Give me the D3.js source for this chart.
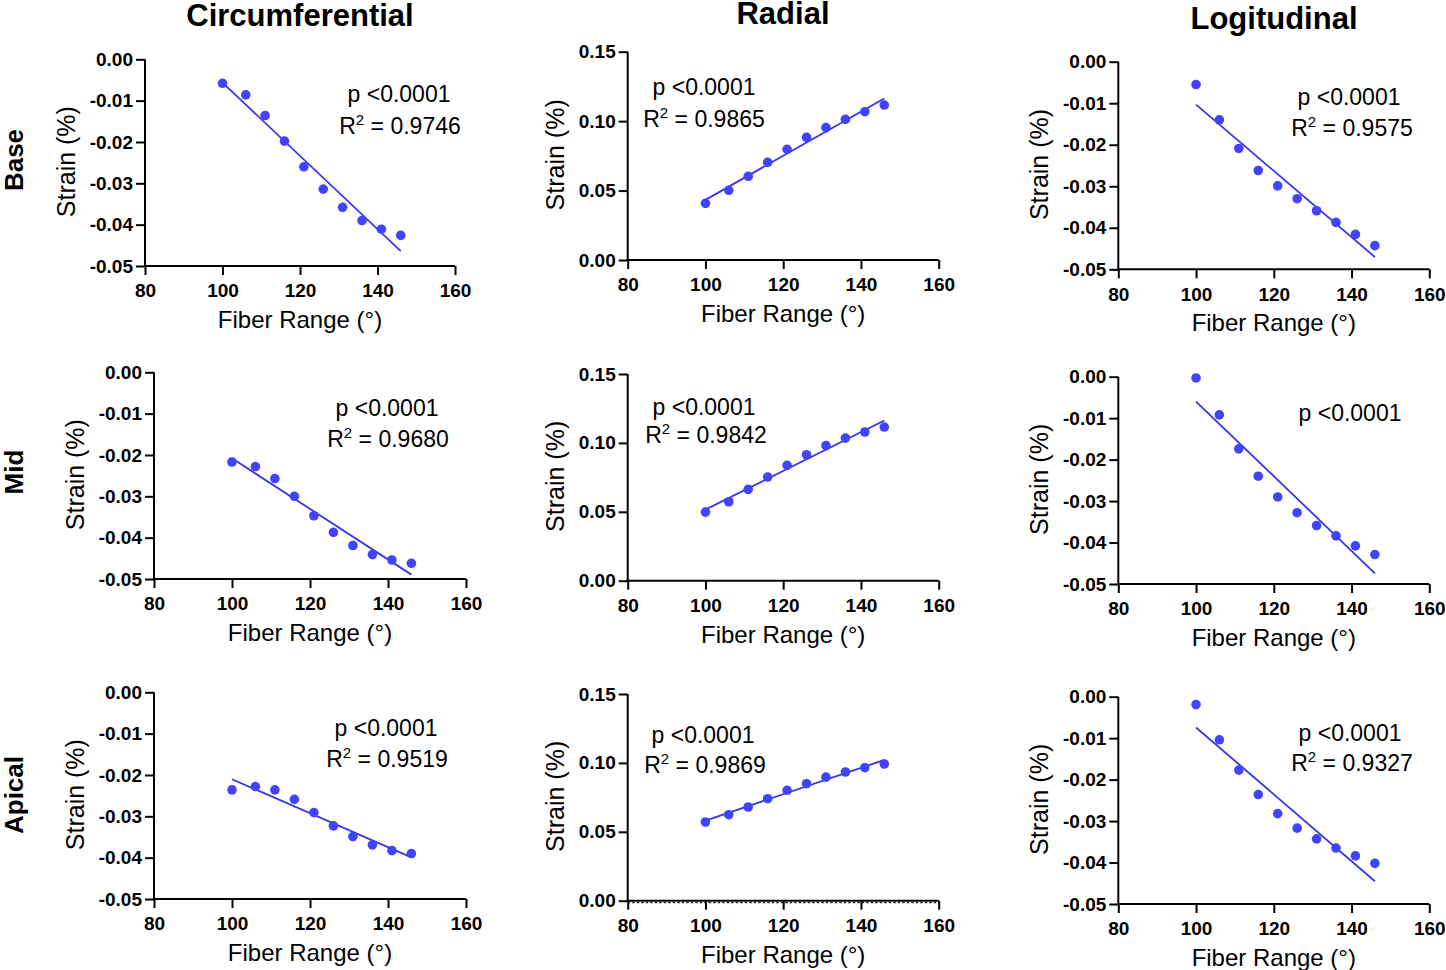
<!DOCTYPE html>
<html>
<head>
<meta charset="utf-8">
<script src="https://cdn.jsdelivr.net/npm/d3@7"></script>
<style>
  body { margin: 0; background: #fff; }
  svg { display: block; font-family: "Liberation Sans", Arial, sans-serif; }
</style>
</head>
<body>
<svg id="chart" width="1446" height="970"></svg>
<script>
// ---------------- DATA ----------------
const fiberRange = [100, 106, 111, 116, 121, 126, 131, 136, 141, 146];
const columnTitles = ["Circumferential", "Radial", "Logitudinal"];
const rowTitles = ["Base", "Mid", "Apical"];
const xTicks = [80, 100, 120, 140, 160];
const negTicks = [0, -0.01, -0.02, -0.03, -0.04, -0.05];
const posTicks = [0, 0.05, 0.10, 0.15];

const circBase   = [-0.0058, -0.0086, -0.0136, -0.0198, -0.0260, -0.0314, -0.0358, -0.0390, -0.0411, -0.0426];
const radBase    = [0.0408, 0.0502, 0.0602, 0.0703, 0.0797, 0.0883, 0.0953, 0.1013, 0.1068, 0.1116];
const longBase   = [-0.0055, -0.0140, -0.0209, -0.0262, -0.0299, -0.0330, -0.0359, -0.0387, -0.0416, -0.0443];
const circMid    = [-0.0217, -0.0228, -0.0257, -0.0300, -0.0347, -0.0387, -0.0419, -0.0441, -0.0454, -0.0462];
const radMid     = [0.0498, 0.0573, 0.0663, 0.0752, 0.0837, 0.0914, 0.0980, 0.1035, 0.1079, 0.1115];
const longMid    = [-0.0003, -0.0092, -0.0174, -0.0240, -0.0290, -0.0328, -0.0359, -0.0384, -0.0408, -0.0429];
const circApical = [-0.0236, -0.0228, -0.0236, -0.0259, -0.0291, -0.0323, -0.0349, -0.0369, -0.0383, -0.0390];
const radApical  = [0.0571, 0.0624, 0.0680, 0.0740, 0.0801, 0.0849, 0.0897, 0.0934, 0.0965, 0.0992];
const longApical = [-0.0019, -0.0104, -0.0177, -0.0236, -0.0282, -0.0317, -0.0343, -0.0365, -0.0384, -0.0402];

const pLabel = "p <0.0001";
const rSquared = ["0.9746", "0.9865", "0.9575", "0.9680", "0.9842", null, "0.9519", "0.9869", "0.9327"];

// ---------------- LAYOUT ----------------
const series = [circBase, radBase, longBase, circMid, radMid, longMid, circApical, radApical, longApical];
// axis origin (left x), top and bottom pixel of y range
const frames = [
  {x: 145,   top: 59.3,  bot: 266,   w: 310},
  {x: 627.7, top: 51.7,  bot: 260,   w: 311},
  {x: 1118.3,top: 61.7,  bot: 269.3, w: 311},
  {x: 154,   top: 372.3, bot: 579,   w: 312},
  {x: 627.7, top: 374,   bot: 580.7, w: 311},
  {x: 1118.3,top: 376.7, bot: 584,   w: 311},
  {x: 154,   top: 692.3, bot: 899,   w: 312},
  {x: 627.7, top: 694,   bot: 900.7, w: 311},
  {x: 1118.3,top: 696.7, bot: 904,   w: 311}
];
// annotation: center x and baseline y of the p line, and of the R² line (absolute px)
const notes = [
  {px: 399, py: 102, rx: 400, ry: 134},
  {px: 704, py: 95,  rx: 704, ry: 127},
  {px: 1349,py: 105, rx: 1352,ry: 136},
  {px: 387, py: 416, rx: 388, ry: 447},
  {px: 704, py: 415, rx: 706, ry: 443},
  {px: 1350,py: 421, rx: 0,   ry: 0},
  {px: 386, py: 736, rx: 387, ry: 767},
  {px: 703, py: 743, rx: 705, ry: 773},
  {px: 1350,py: 741, rx: 1352,ry: 771}
];
const colTitlePos = [{x: 300, y: 26}, {x: 783, y: 24}, {x: 1274, y: 29}];
const rowTitlePos = [{x: 23, y: 160}, {x: 23, y: 472}, {x: 23, y: 795}];

const pointColor = "#4343ff";
const lineColor = "#3636ea";

const svg = d3.select("#chart");

const fmtTick = d => (d < -1e-9 ? "-" : "") + Math.abs(d).toFixed(2);

function fitLine(xs, ys) {
  const mx = d3.mean(xs), my = d3.mean(ys);
  let sxy = 0, sxx = 0;
  xs.forEach((x, i) => { sxy += (x - mx) * (ys[i] - my); sxx += (x - mx) * (x - mx); });
  const b = sxy / sxx, a = my - b * mx;
  return x => a + b * x;
}

series.forEach((vals, i) => {
  const f = frames[i];
  const col = i % 3;
  const radial = col === 1;
  const x = d3.scaleLinear().domain([80, 160]).range([f.x, f.x + f.w]);
  const y = radial
    ? d3.scaleLinear().domain([0, 0.15]).range([f.bot, f.top])
    : d3.scaleLinear().domain([-0.05, 0]).range([f.bot, f.top]);
  const g = svg.append("g");

  // y axis
  const yAxis = d3.axisLeft(y)
    .tickValues(radial ? posTicks : negTicks)
    .tickFormat(fmtTick)
    .tickSize(9).tickPadding(3).tickSizeOuter(0);
  const ya = g.append("g").attr("transform", `translate(${f.x},0)`).call(yAxis);

  // x axis
  const xAxis = d3.axisBottom(x).tickValues(xTicks).tickFormat(d3.format("d"))
    .tickSize(9).tickPadding(9).tickSizeOuter(0);
  const xa = g.append("g").attr("transform", `translate(0,${f.bot})`).call(xAxis);

  [ya, xa].forEach(a => {
    a.selectAll("path.domain").attr("stroke", "#000").attr("stroke-width", 2);
    a.selectAll(".tick line").attr("stroke", "#000").attr("stroke-width", 2);
    a.selectAll(".tick text").attr("fill", "#000").attr("font-size", 19)
      .attr("font-weight", "bold").attr("font-family", "Liberation Sans, Arial, sans-serif");
  });
  ya.select("path.domain").attr("d", `M0,${f.top}V${f.bot + 1}`);
  xa.select("path.domain").attr("d", `M${f.x - 1},0H${f.x + f.w}`);

  if (i === 7) {
    g.append("line")
      .attr("x1", f.x).attr("x2", f.x + f.w)
      .attr("y1", y(0) + 2).attr("y2", y(0) + 2)
      .attr("stroke", "#222").attr("stroke-width", 1.3)
      .attr("stroke-dasharray", "2.5,2");
  }

  // axis titles
  g.append("text")
    .attr("x", f.x + f.w / 2).attr("y", f.bot + 62)
    .attr("text-anchor", "middle").attr("font-size", 24)
    .text("Fiber Range (°)");
  const yOff = radial ? 64 : 70;
  g.append("text")
    .attr("transform", `translate(${f.x - yOff},${(f.top + f.bot) / 2 - 1}) rotate(-90)`)
    .attr("text-anchor", "middle").attr("font-size", 25)
    .text("Strain (%)");

  // regression line
  const fn = fitLine(fiberRange, vals);
  const x0 = d3.min(fiberRange), x1 = d3.max(fiberRange);
  g.append("line")
    .attr("x1", x(x0)).attr("y1", y(fn(x0)))
    .attr("x2", x(x1)).attr("y2", y(fn(x1)))
    .attr("stroke", lineColor).attr("stroke-width", 1.8);

  // points
  g.selectAll("circle").data(vals).join("circle")
    .attr("cx", (d, j) => x(fiberRange[j]))
    .attr("cy", d => y(d))
    .attr("r", 4.8)
    .attr("fill", pointColor);

  // annotations
  const n = notes[i];
  g.append("text").attr("x", n.px).attr("y", n.py)
    .attr("text-anchor", "middle").attr("font-size", 23).text(pLabel);
  if (rSquared[i]) {
    const t = g.append("text").attr("x", n.rx).attr("y", n.ry)
      .attr("text-anchor", "middle").attr("font-size", 23);
    t.append("tspan").text("R");
    t.append("tspan").attr("font-size", 15).attr("dy", -9).text("2");
    t.append("tspan").attr("dy", 9).text(" = " + rSquared[i]);
  }
});

// column titles
svg.selectAll("text.coltitle").data(columnTitles).join("text")
  .attr("class", "coltitle")
  .attr("x", (d, i) => colTitlePos[i].x).attr("y", (d, i) => colTitlePos[i].y)
  .attr("text-anchor", "middle").attr("font-size", 31).attr("font-weight", "bold")
  .text(d => d);

// row titles
svg.selectAll("text.rowtitle").data(rowTitles).join("text")
  .attr("class", "rowtitle")
  .attr("transform", (d, i) => `translate(${rowTitlePos[i].x},${rowTitlePos[i].y}) rotate(-90)`)
  .attr("text-anchor", "middle").attr("font-size", 26).attr("font-weight", "bold")
  .text(d => d);
</script>
</body>
</html>
